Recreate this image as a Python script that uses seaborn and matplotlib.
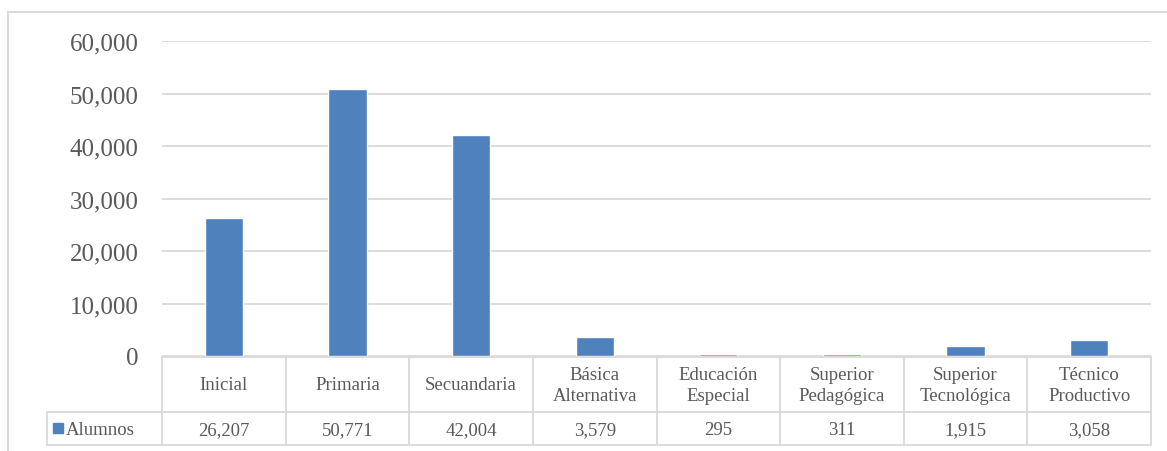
import seaborn as sns
import matplotlib
matplotlib.use('Agg')
import matplotlib.pyplot as plt
from matplotlib.lines import Line2D
import pandas as pd

categorias = ["Inicial", "Primaria", "Secuandaria", "Básica\nAlternativa", "Educación\nEspecial",
              "Superior\nPedagógica", "Superior\nTecnológica", "Técnico\nProductivo"]
alumnos = [26207, 50771, 42004, 3579, 295, 311, 1915, 3058]
serie = "Alumnos"
y_ticks = [0, 10000, 20000, 30000, 40000, 50000, 60000]

azul = "#4f81bd"
gris_txt = "#595959"
gris_lin = "#d9d9d9"

sns.set_theme(style="white")
plt.rcParams['font.family'] = ['Liberation Serif', 'DejaVu Serif']

W, H = 1167, 452
fig = plt.figure(figsize=(W / 100, H / 100), dpi=100)
fig.patch.set_facecolor('white')

# pixel layout (from reference)
px_l, px_r = 162, 1151
px_top, px_zero = 42, 357
px_hdr, px_bot = 413, 446
px_tab_l = 47

ax = fig.add_axes([px_l / W, 1 - px_zero / H, (px_r - px_l) / W, (px_zero - px_top) / H])
df = pd.DataFrame({"cat": categorias, "val": alumnos})
sns.barplot(data=df, x="cat", y="val", color=azul, saturation=1, width=0.31, ax=ax)
ax.set_xlim(-0.5, len(categorias) - 0.5)
ax.set_ylim(0, 60000)
ax.set_yticks(y_ticks)
ax.set_yticklabels([f"{v:,}" for v in y_ticks], fontsize=18, color=gris_txt)
ax.tick_params(axis='y', length=0, pad=17)
ax.set_xticks([])
ax.set_xlabel("")
ax.set_ylabel("")
ax.yaxis.grid(True, color=gris_lin, linewidth=1.3)
ax.set_axisbelow(True)
for s in ax.spines.values():
    s.set_visible(False)

# data table under the chart
unit = (px_r - px_l) / len(categorias)
tx0 = -0.5 - (px_l - px_tab_l) / unit
tax = fig.add_axes([px_tab_l / W, 1 - px_bot / H, (px_r - px_tab_l) / W, (px_bot - px_zero) / H])
tax.set_xlim(tx0, len(categorias) - 0.5)
tax.set_ylim(px_bot, px_zero)
tax.axis('off')
lw = 1.3
tax.plot([-0.5, len(categorias) - 0.5], [px_zero + 1, px_zero + 1], color=gris_lin, lw=lw, clip_on=False)
tax.plot([tx0, len(categorias) - 0.5], [px_hdr, px_hdr], color=gris_lin, lw=lw, clip_on=False)
tax.plot([tx0, len(categorias) - 0.5], [px_bot, px_bot], color=gris_lin, lw=lw, clip_on=False)
tax.plot([tx0, tx0], [px_hdr, px_bot], color=gris_lin, lw=lw, clip_on=False)
for i in range(len(categorias) + 1):
    tax.plot([i - 0.5, i - 0.5], [px_zero + 1, px_bot], color=gris_lin, lw=lw, clip_on=False)
for i, (c, v) in enumerate(zip(categorias, alumnos)):
    tax.text(i, (px_zero + px_hdr) / 2 + 1, c, ha='center', va='center', fontsize=13.5,
             color=gris_txt, linespacing=1.3)
    tax.text(i, (px_hdr + px_bot) / 2 + 1, f"{v:,}", ha='center', va='center', fontsize=13.5,
             color=gris_txt)
ym = (px_hdr + px_bot) / 2
tax.add_patch(plt.Rectangle((tx0 + 0.05, ym - 5), 0.08, 10, color=azul, clip_on=False))
tax.text(tx0 + 0.15, ym + 1, serie, ha='left', va='center', fontsize=13.5, color=gris_txt)

# outer chart border
fig.add_artist(Line2D([8 / W, 8 / W], [0, 1 - 13 / H], color=gris_lin, lw=1.5, transform=fig.transFigure))
fig.add_artist(Line2D([8 / W, 1], [1 - 13 / H, 1 - 13 / H], color=gris_lin, lw=1.5, transform=fig.transFigure))

fig.savefig("out.png", dpi=100)
